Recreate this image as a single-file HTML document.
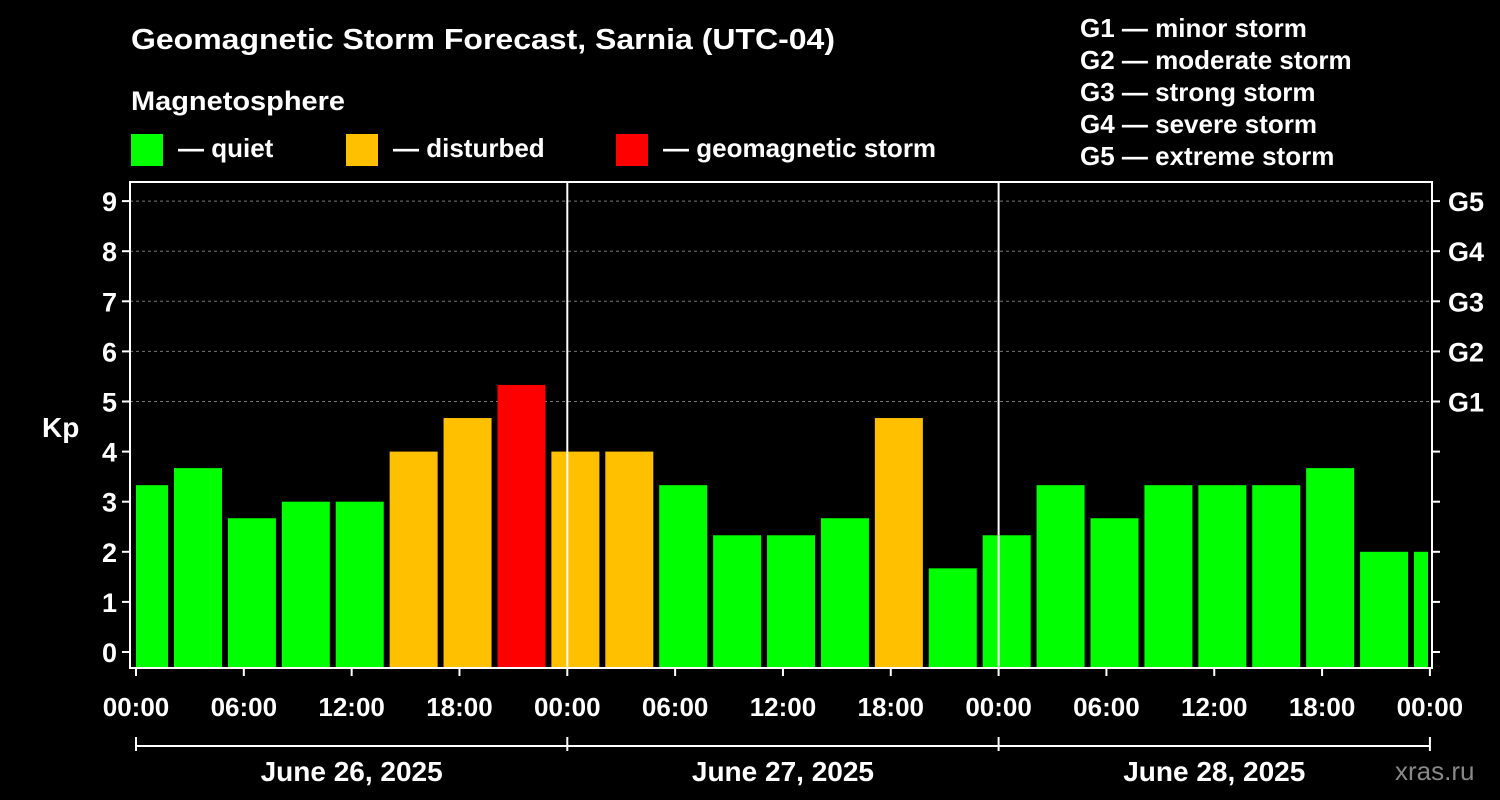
<!DOCTYPE html>
<html><head><meta charset="utf-8">
<style>
body{margin:0;background:#000;}
svg{display:block;font-family:"Liberation Sans",sans-serif;font-weight:bold;}
</style></head>
<body>
<svg id="chart" width="1500" height="800" viewBox="0 0 1500 800">
<rect width="1500" height="800" fill="#000"/>
<text x="131" y="49" fill="#fff" font-size="29" textLength="704" lengthAdjust="spacingAndGlyphs">Geomagnetic Storm Forecast, Sarnia (UTC-04)</text>
<text x="131" y="110" fill="#fff" font-size="27" textLength="214" lengthAdjust="spacingAndGlyphs">Magnetosphere</text>
<g><rect x="131" y="134" width="32" height="32" fill="#00ff00"/><text x="178" y="157" fill="#fff" font-size="26">— quiet</text></g>
<g><rect x="346" y="134" width="32" height="32" fill="#ffc000"/><text x="393" y="157" fill="#fff" font-size="26">— disturbed</text></g>
<g><rect x="616" y="134" width="32" height="32" fill="#ff0000"/><text x="663" y="157" fill="#fff" font-size="26">— geomagnetic storm</text></g>
<g fill="#fff" font-size="26">
<text x="1080" y="37">G1 — minor storm</text>
<text x="1080" y="69">G2 — moderate storm</text>
<text x="1080" y="101">G3 — strong storm</text>
<text x="1080" y="133">G4 — severe storm</text>
<text x="1080" y="165">G5 — extreme storm</text>
</g>
<text x="42" y="437" fill="#fff" font-size="28">Kp</text>
<text x="1395" y="780" fill="#888" font-size="26" font-weight="normal">xras.ru</text>
<g id="grid"></g><g id="bars"></g><g id="axes"></g>
</svg>
<script>
const kpValues=[3.33,3.67,2.67,3,3,4,4.67,5.33,4,4,3.33,2.33,2.33,2.67,4.67,1.67,2.33,3.33,2.67,3.33,3.33,3.33,3.67,2,2];
const kpTicks=[0,1,2,3,4,5,6,7,8,9];
const gLabels=["G1","G2","G3","G4","G5"];
const hourLabels=["00:00","06:00","12:00","18:00","00:00","06:00","12:00","18:00","00:00","06:00","12:00","18:00","00:00"];
const dayLabels=["June 26, 2025","June 27, 2025","June 28, 2025"];
const NS="http://www.w3.org/2000/svg";
const x0=136,dayW=431.3,pLeft=130,pRight=1432,plotTop=182,pBottom=668;
const X=h=>x0+h/24*dayW;
const Y=k=>652-k*50.1;
function mk(p,tag,a){const e=document.createElementNS(NS,tag);for(const k in a)e.setAttribute(k,a[k]);p.appendChild(e);return e;}
const grid=document.getElementById('grid'),bars=document.getElementById('bars'),axes=document.getElementById('axes');
kpTicks.forEach(k=>{
 if(k>=5){const l=mk(grid,'line',{x1:pLeft,x2:pRight,y1:Y(k),y2:Y(k),stroke:'#777','stroke-dasharray':'3,3'});
 
 }
 const t=mk(axes,'text',{x:117,y:Y(k)+10,fill:'#fff','font-size':27,'text-anchor':'end'});t.textContent=k;
 
 
 mk(axes,'line',{x1:pLeft-8,x2:pLeft,y1:Y(k),y2:Y(k),stroke:'#fff','stroke-width':2});
 mk(axes,'line',{x1:pRight,x2:pRight+8,y1:Y(k),y2:Y(k),stroke:'#fff','stroke-width':2});
});
gLabels.forEach((g,i)=>{const t=mk(axes,'text',{x:1448,y:Y(i+5)+10,fill:'#fff','font-size':27});t.textContent=g;
 
 });
const clip=mk(document.getElementById('chart'),'clipPath',{id:'pc'});mk(clip,'rect',{x:x0,y:plotTop,width:1428-x0,height:pBottom-plotTop});
bars.setAttribute('clip-path','url(#pc)');
kpValues.forEach((v,i)=>{
 const c=X(i*3+0.45);const col=v>=5?'#ff0000':(v>=4?'#ffc000':'#00ff00');
 const r=mk(bars,'rect',{x:c-24,y:Y(v),width:48,height:pBottom-Y(v),fill:col});
 
 
});
[1,2].forEach(d=>mk(axes,'line',{x1:X(d*24),x2:X(d*24),y1:plotTop,y2:pBottom,stroke:'#fff','stroke-width':2}));
mk(axes,'rect',{x:pLeft,y:plotTop,width:pRight-pLeft,height:pBottom-plotTop,fill:'none',stroke:'#fff','stroke-width':2});
hourLabels.forEach((h,i)=>{
 mk(axes,'line',{x1:X(i*6),x2:X(i*6),y1:pBottom,y2:pBottom+8,stroke:'#fff','stroke-width':2});
 const t=mk(axes,'text',{x:X(i*6),y:716,fill:'#fff','font-size':26,'text-anchor':'middle'});t.textContent=h;
 
 
});
mk(axes,'line',{x1:X(0),x2:X(72),y1:746,y2:746,stroke:'#fff','stroke-width':2});
[0,1,2,3].forEach(d=>mk(axes,'line',{x1:X(d*24),x2:X(d*24),y1:737,y2:751,stroke:'#fff','stroke-width':2}));
dayLabels.forEach((d,i)=>{const t=mk(axes,'text',{x:X(i*24+12),y:781,fill:'#fff','font-size':28,'text-anchor':'middle'});t.textContent=d;
 
 });
</script>
</body></html>
